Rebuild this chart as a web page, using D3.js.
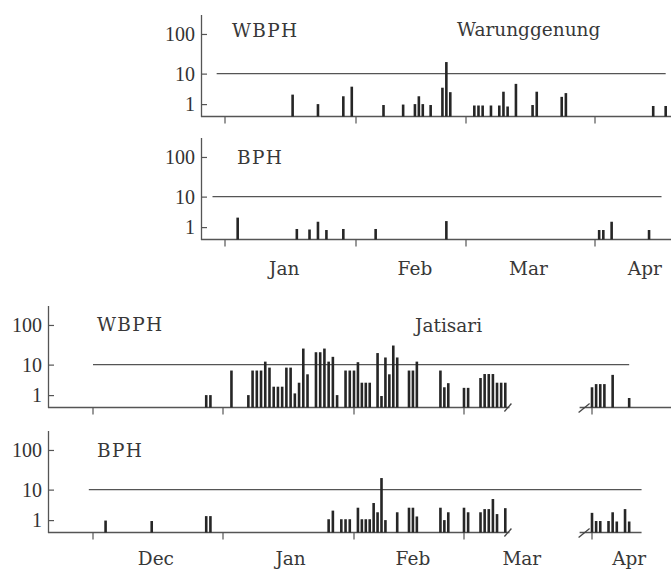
<!DOCTYPE html>
<html>
<head>
<meta charset="utf-8">
<script src="https://cdn.jsdelivr.net/npm/d3@7"></script>
<style>
  body { margin: 0; background: #fff; }
  svg { display: block; }
  .num { font-family: "Liberation Serif", serif; font-size: 20px; fill: #333; }
  .word { font-family: "DejaVu Serif", serif; font-size: 18.5px; fill: #383838; }
  .name { letter-spacing: 1.3px; }
</style>
</head>
<body>
<script>
// dates are "month-day"; Nov and Dec belong to the season's first year
const parseDay = s => {
    const [m, d] = s.split("-").map(Number);
    return new Date(m >= 11 ? 1980 : 1981, m - 1, d);
};

// Warunggenung, WBPH
const warWbph = [
    ["1-17", 2.4], ["1-23", 1], ["1-29", 2.1], ["1-31", 4.3], ["2-8", 0.9],
    ["2-13", 0.95], ["2-16", 1], ["2-17", 2.1], ["2-18", 1], ["2-20", 0.9],
    ["2-23", 4], ["2-24", 20], ["2-25", 2.9], ["3-3", 0.85], ["3-4", 0.85],
    ["3-5", 0.85], ["3-7", 0.85], ["3-9", 0.85], ["3-10", 3], ["3-11", 0.75],
    ["3-13", 5.2], ["3-17", 0.9], ["3-18", 3], ["3-24", 2], ["3-25", 2.7],
    ["4-15", 0.8], ["4-18", 0.8]
];

// Warunggenung, BPH
const warBph = [
    ["1-4", 2.4], ["1-18", 0.8], ["1-21", 0.75], ["1-23", 1.7], ["1-25", 0.7],
    ["1-29", 0.8], ["2-6", 0.8], ["2-24", 1.8], ["4-2", 0.7], ["4-3", 0.7],
    ["4-5", 1.7], ["4-14", 0.7]
];

// Jatisari, WBPH
const jatWbph = [
    ["12-28", 1], ["12-29", 1], ["1-3", 6.9], ["1-7", 1], ["1-8", 6.9],
    ["1-9", 6.9], ["1-10", 6.9], ["1-11", 12], ["1-12", 8.3], ["1-13", 2.2],
    ["1-14", 2.2], ["1-15", 2.2], ["1-16", 8.3], ["1-17", 8.3], ["1-18", 1.2],
    ["1-19", 3], ["1-20", 26], ["1-21", 5.4], ["1-23", 21], ["1-24", 21],
    ["1-25", 26], ["1-26", 12], ["1-27", 16], ["1-28", 1], ["1-30", 6.9],
    ["1-31", 6.9], ["2-1", 6.9], ["2-2", 11.6], ["2-3", 3], ["2-4", 3],
    ["2-5", 3], ["2-7", 20], ["2-8", 0.9], ["2-9", 15.4], ["2-10", 5.4],
    ["2-11", 31], ["2-12", 15.4], ["2-15", 6.9], ["2-16", 6.9], ["2-17", 12],
    ["2-23", 6.9], ["2-24", 2.1], ["2-25", 2.9], ["3-1", 2], ["3-2", 2],
    ["3-5", 4.2], ["3-6", 5.5], ["3-7", 5.5], ["3-8", 5.5], ["3-9", 3],
    ["3-10", 3], ["3-11", 3], ["4-1", 2.1], ["4-2", 2.7], ["4-3", 2.7],
    ["4-4", 2.7], ["4-6", 5.2], ["4-10", 0.7]
];

// Jatisari, BPH
const jatBph = [
    ["12-4", 0.95], ["12-15", 0.9], ["12-28", 1.5], ["12-29", 1.5], ["1-26", 1.1],
    ["1-27", 2.4], ["1-29", 1.1], ["1-30", 1.1], ["1-31", 1.1], ["2-2", 3],
    ["2-3", 1.1], ["2-4", 1.1], ["2-5", 1.1], ["2-6", 4.2], ["2-7", 2.1],
    ["2-8", 20], ["2-9", 1], ["2-12", 2.1], ["2-15", 3], ["2-16", 3],
    ["2-17", 1.45], ["2-23", 3], ["2-24", 1], ["2-25", 2.1], ["3-1", 3],
    ["3-2", 2.1], ["3-5", 2.1], ["3-6", 2.7], ["3-7", 2.7], ["3-8", 5.5],
    ["3-9", 1.8], ["3-11", 2.9], ["4-1", 2], ["4-2", 0.9], ["4-3", 0.9],
    ["4-5", 0.9], ["4-6", 2.1], ["4-7", 0.85], ["4-9", 2.7], ["4-10", 0.85]
];

const yTicks = [1, 10, 100];
const threshold = 10;
const monthStarts = ["12-1", "1-1", "2-1", "3-1", "4-1"];
const topMonthLabels = [["1-15", "Jan"], ["2-16", "Feb"], ["3-16", "Mar"], ["4-13", "Apr"]];
const bottomMonthLabels = [["12-16", "Dec"], ["1-17", "Jan"], ["2-16", "Feb"], ["3-15", "Mar"], ["4-10", "Apr"]];

const W = 671, H = 570;

const svg = d3.select("body").append("svg")
    .attr("width", W)
    .attr("height", H);

// piecewise time scales so the month ticks land where the original puts them
const xTop = d3.scaleTime()
    .domain(["12-26", "1-1", "2-1", "3-1", "4-1", "4-20"].map(parseDay))
    .range([200, 225, 356, 466, 595, 674]);
const xBottom = d3.scaleTime()
    .domain(["11-20", "12-1", "1-1", "2-1", "3-1", "4-1", "4-21"].map(parseDay))
    .range([47, 93, 223, 354, 464, 592, 674.6]);

const panels = [
    { data: warWbph, x: xTop, base: 116.5, name: "WBPH", nameX: 232, nameY: 37,
      site: "Warunggenung", siteX: 457, siteY: 36,
      line: ["12-30", "4-18"], axis: [["12-26", "4-20"]] },
    { data: warBph, x: xTop, base: 239.5, name: "BPH", nameX: 237, nameY: 164,
      line: ["12-29", "4-17"], axis: [["12-26", "4-20"]],
      months: topMonthLabels, monthY: 275 },
    { data: jatWbph, x: xBottom, base: 407.5, name: "WBPH", nameX: 97, nameY: 331,
      site: "Jatisari", siteX: 415, siteY: 332,
      line: ["12-1", "4-10"], axis: [["11-20", "3-12"], ["3-29", "4-21"]] },
    { data: jatBph, x: xBottom, base: 532.5, name: "BPH", nameX: 97, nameY: 457,
      line: ["11-30", "4-13"], axis: [["11-20", "3-12"], ["3-29", "4-13"]],
      months: bottomMonthLabels, monthY: 565 }
];

panels.forEach(drawPanel);

function drawPanel(p) {
    const x = p.x;
    const y = d3.scaleLog().domain([1, 300]).range([p.base, p.base - 102]);
    const x0 = x.range()[0] + 1;
    const g = svg.append("g");

    // y axis, log(n + 1), ticks pointing inwards
    const ya = g.append("g")
        .attr("transform", `translate(${x0},0)`)
        .call(d3.axisLeft(y)
            .tickValues(yTicks.map(v => v + 1))
            .tickFormat(v => Math.round(v - 1))
            .tickSizeInner(-6)
            .tickSizeOuter(0)
            .tickPadding(6));
    ya.select(".domain").attr("stroke", "#555").attr("stroke-width", 1.3);
    ya.selectAll(".tick line").attr("stroke", "#555").attr("stroke-width", 1.2);
    ya.selectAll(".tick text").attr("class", "num").attr("dy", "0.34em");

    // baseline (broken for Jatisari)
    g.selectAll(".base")
        .data(p.axis)
        .join("line")
        .attr("x1", d => Math.max(x0, x(parseDay(d[0]))))
        .attr("x2", d => x(parseDay(d[1])))
        .attr("y1", p.base)
        .attr("y2", p.base)
        .attr("stroke", "#555")
        .attr("stroke-width", 1.3);

    if (p.axis.length > 1) {
        const xe = x(parseDay(p.axis[0][1]));
        const xs = x(parseDay(p.axis[1][0]));
        g.append("line")
            .attr("x1", xe - 5).attr("y1", p.base + 4)
            .attr("x2", xe + 2).attr("y2", p.base - 4)
            .attr("stroke", "#444").attr("stroke-width", 1.3);
        g.append("line")
            .attr("x1", xs - 1).attr("y1", p.base + 5)
            .attr("x2", xs + 10).attr("y2", p.base - 4)
            .attr("stroke", "#444").attr("stroke-width", 1.3);
    }

    // month ticks
    const dom = x.domain();
    g.selectAll(".mtick")
        .data(monthStarts.map(parseDay).filter(d => d > dom[0] && d < dom[dom.length - 1]))
        .join("line")
        .attr("x1", d => x(d))
        .attr("x2", d => x(d))
        .attr("y1", p.base)
        .attr("y2", p.base + 7)
        .attr("stroke", "#555")
        .attr("stroke-width", 1.2);

    // threshold line at 10
    g.append("line")
        .attr("x1", x(parseDay(p.line[0])))
        .attr("x2", x(parseDay(p.line[1])))
        .attr("y1", y(threshold + 1))
        .attr("y2", y(threshold + 1))
        .attr("stroke", "#555")
        .attr("stroke-width", 1.1);

    // bars
    g.selectAll(".bar")
        .data(p.data)
        .join("rect")
        .attr("x", d => x(parseDay(d[0])) - 1.3)
        .attr("width", 2.6)
        .attr("y", d => y(d[1] + 1))
        .attr("height", d => p.base - y(d[1] + 1))
        .attr("fill", "#262626");

    g.append("text")
        .attr("class", "word name")
        .attr("x", p.nameX)
        .attr("y", p.nameY)
        .text(p.name);

    if (p.site) {
        g.append("text")
            .attr("class", "word")
            .attr("x", p.siteX)
            .attr("y", p.siteY)
            .text(p.site);
    }

    if (p.months) {
        g.selectAll(".month")
            .data(p.months)
            .join("text")
            .attr("class", "word")
            .attr("text-anchor", "middle")
            .attr("x", d => x(parseDay(d[0])))
            .attr("y", p.monthY)
            .text(d => d[1]);
    }
}
</script>
</body>
</html>
